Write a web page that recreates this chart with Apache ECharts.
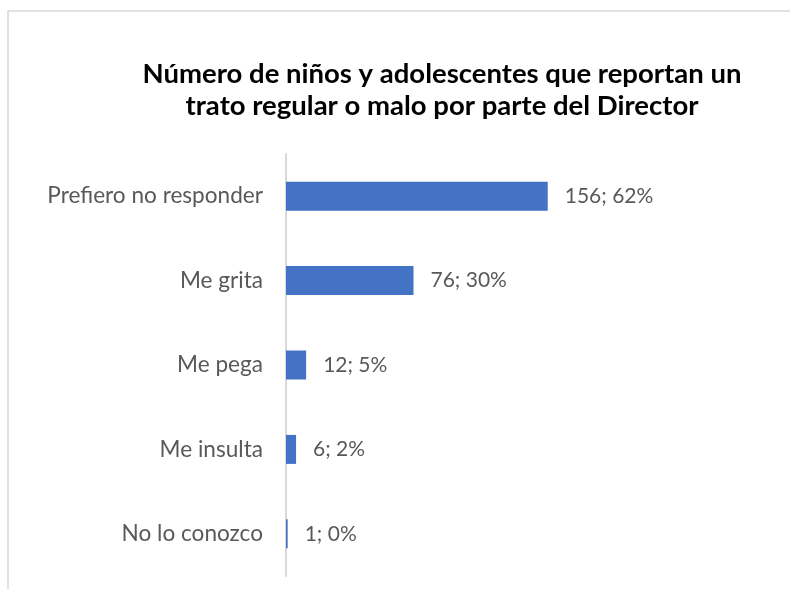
<!DOCTYPE html>
<html>
<head>
<meta charset="utf-8">
<script src="https://cdn.jsdelivr.net/npm/echarts@6/dist/echarts.min.js"></script>
<style>
html,body{margin:0;padding:0;background:#fff;}
#chart{width:790px;height:589px;}
</style>
</head>
<body>
<div id="chart"></div>
<script>
// datos
var categorias = ['Prefiero no responder', 'Me grita', 'Me pega', 'Me insulta', 'No lo conozco'];
var valores = [156, 76, 12, 6, 1];
var porcentajes = ['62%', '30%', '5%', '2%', '0%'];

var chart = echarts.init(document.getElementById('chart'));

var option = {
    animation: false,
    title: {
        text: 'Número de niños y adolescentes que reportan un\ntrato regular o malo por parte del Director',
        left: 437,
        top: 53,
        textAlign: 'center',
        textStyle: {
            fontFamily: 'Lato',
            fontWeight: 'bold',
            fontSize: 27.5,
            lineHeight: 32,
            color: '#000'
        }
    },
    graphic: [{
        type: 'rect',
        shape: {x: 8, y: 11, width: 800, height: 600},
        style: {fill: 'none', stroke: '#d9d9d9', lineWidth: 1.5},
        silent: true
    }],
    grid: {
        left: 286,
        top: 154,
        width: 302,
        height: 422
    },
    xAxis: {
        type: 'value',
        min: 0,
        max: 180,
        show: false,
        splitLine: {show: false}
    },
    yAxis: {
        type: 'category',
        inverse: true,
        data: categorias,
        axisTick: {show: false},
        axisLine: {lineStyle: {color: '#d9d9d9', width: 2}},
        axisLabel: {
            margin: 23,
            fontFamily: 'Lato',
            fontSize: 22.6,
            color: '#595959'
        }
    },
    series: [{
        type: 'bar',
        data: valores,
        barWidth: 29,
        itemStyle: {color: '#4472C4'},
        label: {
            show: true,
            position: 'right',
            distance: 17,
            fontFamily: 'Lato',
            fontSize: 21,
            color: '#595959',
            formatter: function (p) {
                return p.value + '; ' + porcentajes[p.dataIndex];
            }
        }
    }]
};

chart.setOption(option);
</script>
</body>
</html>
